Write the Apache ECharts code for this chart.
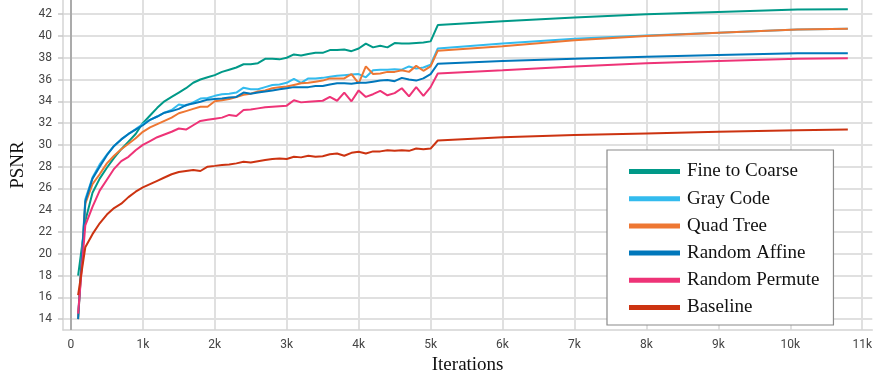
<!DOCTYPE html>
<html>
<head>
<meta charset="utf-8">
<script src="https://cdn.jsdelivr.net/npm/echarts@6/dist/echarts.min.js"></script>
<style>
html,body{margin:0;padding:0;background:#fff;}
#chart{width:875px;height:381px;}
</style>
</head>
<body>
<div id="chart"></div>
<script>
const iterations = [100,200,300,400,500,600,700,800,900,1000,
  1100,1200,1300,1400,1500,1600,1700,1800,1900,2000,
  2100,2200,2300,2400,2500,2600,2700,2800,2900,3000,
  3100,3200,3300,3400,3500,3600,3700,3800,3900,4000,
  4100,4200,4300,4400,4500,4600,4700,4800,4900,5000,
  5100,6000,7000,8000,9000,10100,10800];

const seriesNames = ['Fine to Coarse','Gray Code','Quad Tree','Random Affine','Random Permute','Baseline'];
const seriesColors = ['#009988','#33bbee','#ee7733','#0077bb','#ee3377','#cc3311'];

const fineToCoarse = [18.0,23.0,25.6,26.9,27.9,28.8,29.6,30.3,31.0,32.0,
  32.7,33.4,34.0,34.4,34.8,35.2,35.7,36.0,36.2,36.4,
  36.7,36.9,37.1,37.4,37.4,37.5,37.9,37.9,37.85,38.0,
  38.3,38.2,38.35,38.45,38.45,38.7,38.7,38.75,38.6,38.85,
  39.3,38.95,39.1,38.95,39.35,39.3,39.3,39.35,39.4,39.5,
  41.0,41.35,41.7,42.0,42.2,42.43,42.46];

const grayCode = [14.2,25.0,27.0,28.2,29.1,29.9,30.5,31.0,31.45,31.9,
  32.3,32.6,32.95,33.2,33.7,33.6,33.9,34.25,34.3,34.5,
  34.65,34.7,34.8,35.25,35.1,35.1,35.3,35.5,35.55,35.7,
  36.05,35.7,36.1,36.1,36.15,36.25,36.35,36.4,36.45,36.5,
  36.2,36.85,36.9,36.9,36.95,36.9,37.2,37.0,37.1,37.35,
  38.85,39.3,39.75,40.05,40.3,40.6,40.65];

const quadTree = [14.0,24.6,26.4,27.3,28.3,29.0,29.6,30.1,30.6,31.2,
  31.6,31.9,32.2,32.5,32.9,33.1,33.3,33.5,33.5,34.0,
  34.1,34.2,34.4,34.6,34.7,34.9,35.0,35.2,35.3,35.35,
  35.5,35.65,35.7,35.8,35.9,36.1,36.1,36.1,36.5,35.65,
  37.2,36.5,36.55,36.7,36.7,36.85,36.7,37.25,36.8,37.2,
  38.65,39.05,39.6,40.0,40.3,40.6,40.65];

const randomAffine = [14.0,24.8,26.9,28.0,29.05,29.9,30.5,31.0,31.4,31.8,
  32.3,32.6,32.95,33.1,33.3,33.65,33.8,33.95,34.15,34.2,
  34.25,34.35,34.4,34.8,34.7,34.8,34.9,35.0,35.1,35.2,
  35.3,35.3,35.3,35.4,35.4,35.55,35.65,35.65,35.6,35.7,
  35.7,35.8,35.9,35.95,35.85,36.15,36.0,35.9,36.1,36.5,
  37.45,37.7,37.9,38.1,38.25,38.4,38.4];

const randomPermute = [14.5,22.6,24.3,25.8,26.8,27.8,28.5,28.9,29.5,30.0,
  30.35,30.7,30.95,31.2,31.5,31.4,31.8,32.2,32.3,32.4,
  32.5,32.75,32.65,33.2,33.25,33.35,33.45,33.5,33.55,33.6,
  34.1,33.9,33.95,34.0,34.05,34.4,34.05,34.8,34.0,35.0,
  34.4,34.65,34.95,34.55,34.75,35.2,34.45,35.3,34.5,35.3,
  36.55,36.85,37.2,37.5,37.7,37.9,37.95];

const baseline = [16.2,20.6,21.8,22.8,23.6,24.2,24.6,25.2,25.7,26.1,
  26.4,26.7,27.0,27.3,27.5,27.6,27.7,27.6,28.0,28.07,
  28.15,28.2,28.3,28.44,28.38,28.5,28.6,28.7,28.75,28.7,
  28.9,28.85,29.0,28.9,28.96,29.14,29.2,29.0,29.27,29.36,
  29.2,29.4,29.4,29.5,29.45,29.5,29.45,29.66,29.6,29.66,
  30.4,30.7,30.9,31.05,31.2,31.35,31.4];

const allValues = [fineToCoarse, grayCode, quadTree, randomAffine, randomPermute, baseline];

const chart = echarts.init(document.getElementById('chart'), null, {renderer: 'canvas'});

const series = seriesNames.map((name, k) => {
  const s = {
    name: name,
    type: 'line',
    showSymbol: false,
    symbol: 'none',
    color: seriesColors[k],
    lineStyle: {width: 2, color: seriesColors[k]},
    data: iterations.map((x, i) => [x, allValues[k][i]]),
    animation: false,
    z: 3
  };
  if (k === 0) {
    s.markLine = {
      silent: true,
      symbol: ['none', 'none'],
      label: {show: false},
      animation: false,
      lineStyle: {color: '#9a9a9a', width: 1.5, type: 'solid'},
      data: [{xAxis: 0}]
    };
  }
  return s;
});

const option = {
  backgroundColor: '#fff',
  animation: false,
  grid: {left: 63, right: 0, top: 0, bottom: 51, containLabel: false},
  xAxis: {
    type: 'value',
    min: -110,
    max: 11140,
    splitNumber: 11,
    minInterval: 1000,
    maxInterval: 1000,
    name: 'Iterations',
    nameLocation: 'middle',
    nameGap: 22,
    nameTextStyle: {fontFamily: 'Liberation Serif', fontSize: 19, color: '#111'},
    axisLine: {show: true, onZero: false, lineStyle: {color: '#d4d4d4', width: 1.5}},
    axisTick: {show: false},
    axisLabel: {
      showMinLabel: false, showMaxLabel: false,
      color: '#444', fontFamily: 'Roboto', fontSize: 12, margin: 9,
      formatter: v => v === 0 ? '0' : (v / 1000) + 'k'
    },
    splitLine: {show: true, showMinLine: false, showMaxLine: false, lineStyle: {color: '#e0e0e0', width: 2}}
  },
  yAxis: {
    type: 'value',
    min: 13,
    max: 43.3,
    splitNumber: 15,
    minInterval: 2,
    maxInterval: 2,
    name: 'PSNR',
    nameLocation: 'middle',
    nameGap: 34,
    nameTextStyle: {fontFamily: 'Liberation Serif', fontSize: 19, color: '#111'},
    axisLine: {show: true, onZero: false, lineStyle: {color: '#d4d4d4', width: 1.5}},
    axisTick: {show: true, length: 5, lineStyle: {color: '#c8c8c8', width: 1.5}},
    axisLabel: {
      showMinLabel: false, showMaxLabel: false,
      color: '#444', fontFamily: 'Roboto', fontSize: 12, margin: 11
    },
    splitLine: {show: true, showMinLine: false, showMaxLine: false, lineStyle: {color: '#e0e0e0', width: 2}}
  },
  legend: {
    orient: 'vertical',
    left: 607,
    top: 150,
    padding: [12, 14, 8, 22],
    itemGap: 8.2,
    itemWidth: 51,
    itemHeight: 5,
    icon: 'rect',
    backgroundColor: '#fff',
    borderColor: '#8a8a8a',
    borderWidth: 1.2,
    textStyle: {fontFamily: 'Liberation Serif', fontSize: 19, color: '#111', padding: [0, 0, 0, 2]},
    data: seriesNames
  },
  series: series
};

chart.setOption(option);
</script>
</body>
</html>
